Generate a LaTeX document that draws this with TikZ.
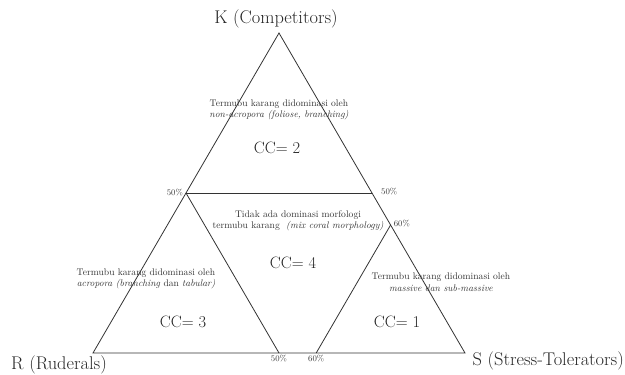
\documentclass[tikz,border=0pt]{standalone}
\usetikzlibrary{positioning,calc}

\begin{document}
\begin{tikzpicture}[x=1pt, y=-1pt,
  side/.style={draw=black!80, line width=0.8pt},
  vtx/.style={font=\fontsize{18.4}{20}\selectfont, text=black!85, inner sep=0pt},
  desc/.style={font=\fontsize{9.6}{11.5}\selectfont, align=center, text=black!80, inner sep=0pt},
  cc/.style={font=\fontsize{16.5}{18}\selectfont, text=black!85, inner sep=0pt},
  pct/.style={font=\fontsize{8.5}{9}\selectfont, text=black!80, inner sep=0pt}
]
  \useasboundingbox (0,0) rectangle (625,375);

  % corners of the triangle
  \coordinate (r) at (93,353);
  \coordinate (s) at (465,353);
  \coordinate (k) at (279,33);
  \coordinate (rk) at ($(r)!0.5!(k)$);
  \coordinate (sk) at ($(s)!0.5!(k)$);
  \coordinate (rs5) at ($(r)!0.5!(s)$);
  \coordinate (rs6) at ($(r)!0.6!(s)$);
  \coordinate (sk6) at ($(s)!0.4!(k)$);

  \draw[side] (r) -- (s) -- (k) -- cycle;
  \draw[side] (rk) -- (sk);
  \draw[side] (rk) -- (rs5);
  \draw[side] (rs6) -- (sk6);

  % corner labels
  \node[vtx] (kname) at (276,19) {K (Competitors)};
  \node[vtx, anchor=west] (rname) at (11,365) {R (Ruderals)};
  \node[vtx, anchor=east] (sname) at (624,361) {S (Stress-Tolerators)};

  % percentages
  \node[pct, left=3pt of rk] (p1) {50\%};
  \node[pct, anchor=west] (p2) at ($(sk)+(9,-1)$) {50\%};
  \node[pct, anchor=west] (p3) at ($(sk6)+(3,-1)$) {60\%};
  \node[pct, below=2pt of rs5] (p4) {50\%};
  \node[pct, below=2pt of rs6] (p5) {60\%};

  % zones
  \node[desc] (ktext) at (279,110) {Termubu karang didominasi oleh\\\textit{non-acropora (foliose, branching)}};
  \node[cc] (cc2) at (277,148) {CC= 2};
  \node[desc] (mtext) at (298,221) {Tidak ada dominasi morfologi\\termubu karang~~\textit{(mix coral morphology)}};
  \node[cc] (cc4) at (293,263) {CC= 4};
  \node[desc] (rtext) at (146,279) {Termubu karang didominasi oleh\\\textit{acropora (branching} dan \textit{tabular)}};
  \node[cc] (cc3) at (183,322) {CC= 3};
  \node[desc] (stext) at (441,282) {Termubu karang didominasi oleh\\\textit{massive dan sub-massive}};
  \node[cc] (cc1) at (397,322) {CC= 1};
\end{tikzpicture}
\end{document}
